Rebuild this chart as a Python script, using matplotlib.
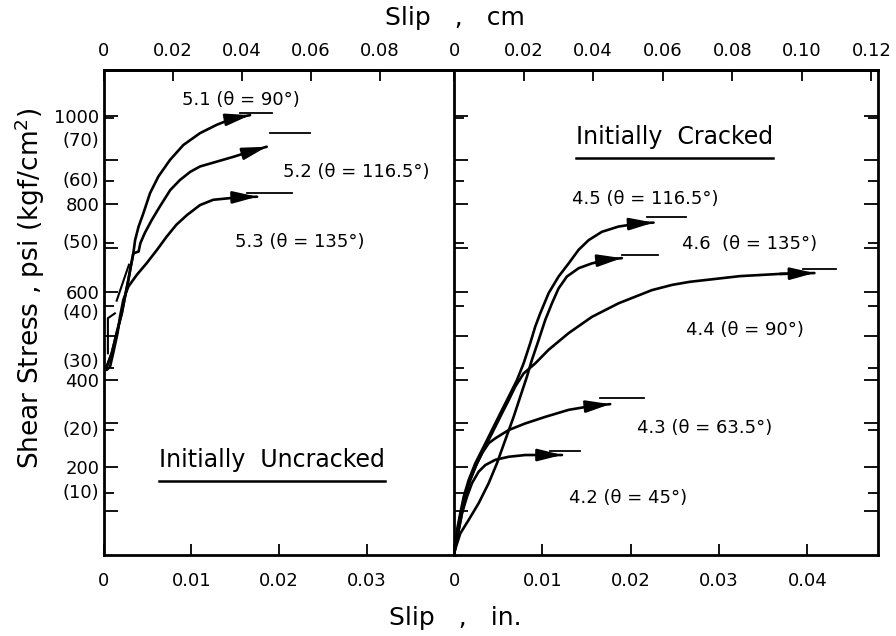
import matplotlib
matplotlib.use("Agg")
import matplotlib.pyplot as plt
from matplotlib.transforms import ScaledTranslation

plt.rcParams['font.family'] = 'DejaVu Sans'
plt.rcParams['mathtext.fontset'] = 'dejavusans'

PSI_PER_KGF = 14.223
CM_PER_IN = 2.54

# --- Initially uncracked specimens: slip (in.) vs shear stress (psi) ---
slip_51 = [0.00036, 0.00094, 0.0015, 0.00208, 0.00245, 0.00283, 0.0031, 0.0034, 0.0036,
           0.0040, 0.00454, 0.0053, 0.00625, 0.00758, 0.0091, 0.0110, 0.0129, 0.0148, 0.0167]
psi_51 = [429, 460, 506, 551, 589, 627, 657, 688, 718,
          749, 779, 825, 863, 901, 935, 962, 981, 996, 1003]

slip_52 = [0.00036, 0.00094, 0.0015, 0.00208, 0.00245, 0.00283, 0.0031, 0.0034,
           0.0040, 0.0042, 0.0047, 0.0055, 0.0064, 0.0076, 0.0087, 0.0099, 0.0110,
           0.0129, 0.0148, 0.0167, 0.0186]
psi_52 = [429, 460, 506, 551, 589, 627, 657, 688,
          692, 711, 734, 764, 794, 832, 855, 874, 886,
          897, 908, 920, 931]

slip_53 = [0.00036, 0.00074, 0.0011, 0.0016, 0.00188, 0.00226, 0.00283, 0.0038, 0.0049,
           0.0061, 0.0072, 0.0083, 0.0095, 0.0110, 0.0125, 0.0140, 0.0156, 0.0175]
psi_53 = [422, 429, 460, 506, 543, 582, 612, 639, 665,
          696, 726, 753, 775, 798, 810, 813, 816, 817]

# short unload/reload traces near the start of the uncracked tests
reload_a_slip = [0.0015, 0.0029]
reload_a_psi = [580, 662]
reload_b_slip = [0.0013, 0.0005, 0.0005]
reload_b_psi = [551, 540, 460]

# --- Initially cracked specimens ---
slip_42 = [0, 0.00015, 0.00053, 0.0009, 0.00147, 0.00204, 0.00279, 0.00354, 0.00467,
           0.00619, 0.00807, 0.01033, 0.01222]
psi_42 = [0, 19, 57, 95, 133, 164, 190, 205, 217,
          224, 228, 228, 228]

slip_43 = [0, 0.0001, 0.00034, 0.00071, 0.0011, 0.00166, 0.00241, 0.00317, 0.00393,
           0.00467, 0.00619, 0.00807, 0.01033, 0.01298, 0.01561, 0.01768]
psi_43 = [0, 11, 49, 87, 125, 164, 201, 232, 255,
          266, 285, 300, 315, 331, 340, 344]

slip_44 = [0, 0.00015, 0.00053, 0.0009, 0.00128, 0.00184, 0.0026, 0.00354, 0.00449,
           0.00543, 0.00619, 0.00693, 0.00788, 0.0092, 0.01071, 0.01298, 0.01561,
           0.01863, 0.0224, 0.0247, 0.0267, 0.0324, 0.0369, 0.0408]
psi_44 = [0, 19, 57, 95, 133, 171, 209, 247, 285,
          323, 353, 384, 414, 437, 468, 506, 543,
          574, 604, 616, 623, 636, 641, 643]

slip_45 = [0, 0.0001, 0.00034, 0.00071, 0.0011, 0.00166, 0.00241, 0.00336, 0.0043,
           0.00524, 0.00619, 0.00713, 0.00788, 0.00863, 0.0092, 0.00976, 0.01071,
           0.01184, 0.01298, 0.01411, 0.01524, 0.01674, 0.01863, 0.02089, 0.02259]
psi_45 = [0, 19, 57, 95, 133, 171, 209, 247, 285,
          323, 361, 399, 437, 483, 521, 551, 597,
          635, 665, 696, 718, 737, 749, 756, 758]

slip_46 = [0, 0.0001, 0.00071, 0.00166, 0.00279, 0.00393, 0.00486, 0.0058, 0.00675,
           0.0075, 0.00826, 0.00882, 0.00958, 0.01033, 0.01109, 0.01184, 0.01278,
           0.01411, 0.01561, 0.0175, 0.0190]
psi_46 = [0, 11, 49, 80, 118, 164, 209, 262, 315,
          361, 407, 445, 490, 536, 574, 608, 635,
          654, 665, 674, 677]

# ultimate stress dashes: slip start, slip end (in.), stress (psi)
ult_start_uncracked = [0.0156, 0.0190, 0.0163]
ult_end_uncracked = [0.0192, 0.0235, 0.0215]
ult_psi_uncracked = [1009, 963, 825]

ult_start_cracked = [0.0218, 0.0190, 0.0395, 0.0165, 0.0109]
ult_end_cracked = [0.0263, 0.0231, 0.0433, 0.0215, 0.0143]
ult_psi_cracked = [770, 684, 652, 357, 238]

labels_uncracked = ["5.1 (θ = 90°)", "5.2 (θ = 116.5°)", "5.3 (θ = 135°)"]
labels_cracked = ["4.5 (θ = 116.5°)", "4.6  (θ = 135°)", "4.4 (θ = 90°)",
                  "4.3 (θ = 63.5°)", "4.2 (θ = 45°)"]

psi_ticks = [100, 200, 300, 400, 500, 600, 700, 800, 900, 1000]
psi_labels = ["", "200", "", "400", "", "600", "", "800", "", "1000"]
kgf_ticks = [10, 20, 30, 40, 50, 60, 70]
in_ticks_left = [0, 0.01, 0.02, 0.03]
in_ticks_right = [0, 0.01, 0.02, 0.03, 0.04]
cm_ticks_left = [0, 0.02, 0.04, 0.06, 0.08]
cm_ticks_right = [0, 0.02, 0.04, 0.06, 0.08, 0.10, 0.12]

YMAX = 1106
LW = 1.9


def draw_curve(ax, slip, psi):
    ax.plot(slip, psi, color='black', lw=LW, solid_capstyle='round', solid_joinstyle='round')
    ax.annotate('', xy=(slip[-1], psi[-1]), xytext=(slip[-2], psi[-2]),
                arrowprops=dict(arrowstyle='-|>,head_length=1.2,head_width=0.3',
                                color='black', lw=LW, shrinkA=0, shrinkB=0,
                                mutation_scale=12))


def fmt(v):
    return "0" if v == 0 else f"{v:.2f}"


def style_axes(ax, xmax, in_ticks, cm_ticks):
    ax.set_xlim(0, xmax)
    ax.set_ylim(0, YMAX)
    ax.set_xticks(in_ticks)
    ax.set_xticklabels([fmt(v) for v in in_ticks])
    ax.set_yticks(psi_ticks)
    ax.set_yticks([k * PSI_PER_KGF for k in kgf_ticks], minor=True)
    ax.tick_params(axis='both', which='both', direction='in', width=1.3)
    ax.tick_params(axis='x', length=8, pad=12, labelsize=13)
    ax.tick_params(axis='y', which='major', length=10, pad=3, labelsize=13)
    ax.tick_params(axis='y', which='minor', length=7)
    for s in ax.spines.values():
        s.set_linewidth(2)
    sec = ax.secondary_xaxis('top', functions=(lambda x: x * CM_PER_IN,
                                               lambda x: x / CM_PER_IN))
    sec.set_xticks(cm_ticks)
    sec.set_xticklabels([fmt(v) for v in cm_ticks])
    sec.tick_params(direction='in', length=8, width=1.3, pad=7, labelsize=13)
    sec.spines['top'].set_linewidth(2)
    return sec


def underline(ax, txt, gap_px=9):
    fig.canvas.draw()
    bb = txt.get_window_extent()
    inv = ax.transData.inverted()
    (x0, y0), (x1, _) = inv.transform([(bb.x0, bb.y0 - gap_px), (bb.x1, bb.y0)])
    ax.plot([x0, x1], [y0, y0], color='black', lw=1.8)


fig = plt.figure(figsize=(8.96, 6.36), dpi=100)
ax_l = fig.add_axes([103.5 / 896, 81 / 636, 351 / 896, 485 / 636])
ax_r = fig.add_axes([454 / 896, 81 / 636, 424 / 896, 485 / 636])

style_axes(ax_l, 0.040, in_ticks_left, cm_ticks_left)
style_axes(ax_r, 0.048, in_ticks_right, cm_ticks_right)

ax_l.set_yticklabels(psi_labels)
ax_l.tick_params(axis='y', which='both', right=False)
ax_r.tick_params(axis='y', which='both', left=True, right=True, labelleft=False)

# kgf/cm2 labels, nudged apart from the psi labels where they would collide
nudge = {70: -23, 40: -7, 30: 6}
for k in kgf_ticks:
    dy = nudge.get(k, 0) * 0.72 / 72
    tr = ax_l.get_yaxis_transform() + ScaledTranslation(0, dy, fig.dpi_scale_trans)
    ax_l.text(-0.012, k * PSI_PER_KGF, f"({k})", transform=tr,
              ha='right', va='center', fontsize=13)

# uncracked panel
for slip, psi in [(slip_51, psi_51), (slip_52, psi_52), (slip_53, psi_53)]:
    draw_curve(ax_l, slip, psi)
ax_l.plot(reload_a_slip, reload_a_psi, color='black', lw=1.5)
ax_l.plot(reload_b_slip, reload_b_psi, color='black', lw=1.5)
for a, b, p in zip(ult_start_uncracked, ult_end_uncracked, ult_psi_uncracked):
    ax_l.plot([a, b], [p, p], color='black', lw=1.3)
for lab, pos in zip(labels_uncracked, [(0.0156, 1038), (0.0288, 874), (0.0224, 714)]):
    ax_l.text(pos[0], pos[1], lab, ha='center', va='center', fontsize=13)
t_unc = ax_l.text(0.0192, 217, "Initially  Uncracked", ha='center', va='center', fontsize=17)

# cracked panel
for slip, psi in [(slip_45, psi_45), (slip_46, psi_46), (slip_44, psi_44),
                  (slip_43, psi_43), (slip_42, psi_42)]:
    draw_curve(ax_r, slip, psi)
for a, b, p in zip(ult_start_cracked, ult_end_cracked, ult_psi_cracked):
    ax_r.plot([a, b], [p, p], color='black', lw=1.3)
label_pos_cracked = [(0.0216, 812), (0.0335, 709), (0.0329, 513), (0.0284, 290), (0.0197, 130)]
for lab, pos in zip(labels_cracked, label_pos_cracked):
    ax_r.text(pos[0], pos[1], lab, ha='center', va='center', fontsize=13)
t_cr = ax_r.text(0.025, 954, "Initially  Cracked", ha='center', va='center', fontsize=17)

underline(ax_l, t_unc)
underline(ax_r, t_cr)

fig.text(455 / 896, 1 - 18 / 636, "Slip   ,   cm", ha='center', va='center', fontsize=18)
fig.text(455 / 896, 1 - 618 / 636, "Slip   ,   in.", ha='center', va='center', fontsize=18)
fig.text(30 / 896, 1 - 288 / 636, "Shear Stress , psi (kgf/cm$^2$)", rotation=90,
         ha='center', va='center', fontsize=19)

fig.savefig("out.png", dpi=100)
